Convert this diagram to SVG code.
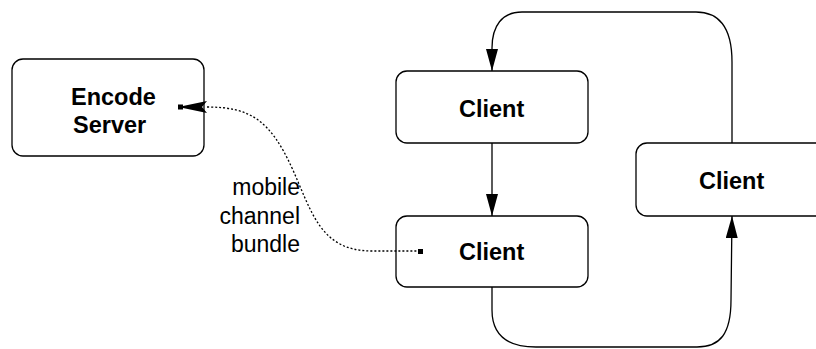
<svg xmlns="http://www.w3.org/2000/svg" width="816" height="349" viewBox="0 0 816 349">
  <defs>
    <style>
      .box { fill: #ffffff; stroke: #000000; stroke-width: 1.3; }
      .lbl { font-family: "Liberation Sans", Arial, sans-serif; font-weight: bold; font-size: 23.5px; fill: #000000; }
      .note { font-family: "Liberation Sans", Arial, sans-serif; font-size: 23px; fill: #000000; text-anchor: end; }
      .edge { fill: none; stroke: #000000; stroke-width: 1.3; }
      .dots { fill: none; stroke: #000000; stroke-width: 1.3; stroke-dasharray: 2 2; }
    </style>
    <marker id="head" viewBox="0 0 22 12" refX="22" refY="6" markerWidth="22" markerHeight="12" markerUnits="userSpaceOnUse" orient="auto">
      <path d="M0,0 L22,6 L0,12 Z" fill="#000000"/>
    </marker>
  </defs>

  <g id="encode-server">
    <rect class="box" x="12" y="59" width="192" height="97" rx="11" ry="11"/>
    <text class="lbl" x="71" y="105">Encode</text>
    <text class="lbl" x="73" y="133">Server</text>
  </g>

  <g id="client-top">
    <rect class="box" x="396" y="71" width="192" height="72" rx="11" ry="11"/>
    <text class="lbl" x="459" y="117">Client</text>
  </g>

  <g id="client-bottom">
    <rect class="box" x="396" y="216" width="192" height="71" rx="11" ry="11"/>
    <text class="lbl" x="459" y="260">Client</text>
  </g>

  <g id="client-right">
    <rect class="box" x="636" y="143" width="192" height="73" rx="11" ry="11"/>
    <text class="lbl" x="699" y="189">Client</text>
  </g>

  <g id="connectors">
    <!-- top client to bottom client -->
    <path class="edge" d="M492,143 L492,216" marker-end="url(#head)"/>
    <!-- right client back round to top client -->
    <path class="edge" d="M732,143 L732,62 C732,26 718,12 696,12 L522,12 C502,12 492,26 492,48 L492,71" marker-end="url(#head)"/>
    <!-- bottom client round to right client -->
    <path class="edge" d="M492,287 L492,310 C492,334 506,347 536,347 L697,347 C720,347 731,334 731,300 L732,216" marker-end="url(#head)"/>
    <!-- mobile channel bundle -->
    <path class="dots" d="M207,107 C250,107 270,120 292,168 C312,212 320,251 372,251 L418,251"/>
    <rect x="418" y="249" width="5" height="5" fill="#000000"/>
    <path d="M207,101 L202,107 L207,113 L183,108 L183,106 Z" fill="#000000"/>
    <rect x="178" y="104.5" width="5" height="5" fill="#000000"/>
    <text class="note" x="300" y="195">mobile</text>
    <text class="note" x="300" y="223.5">channel</text>
    <text class="note" x="300" y="252">bundle</text>
  </g>
</svg>
